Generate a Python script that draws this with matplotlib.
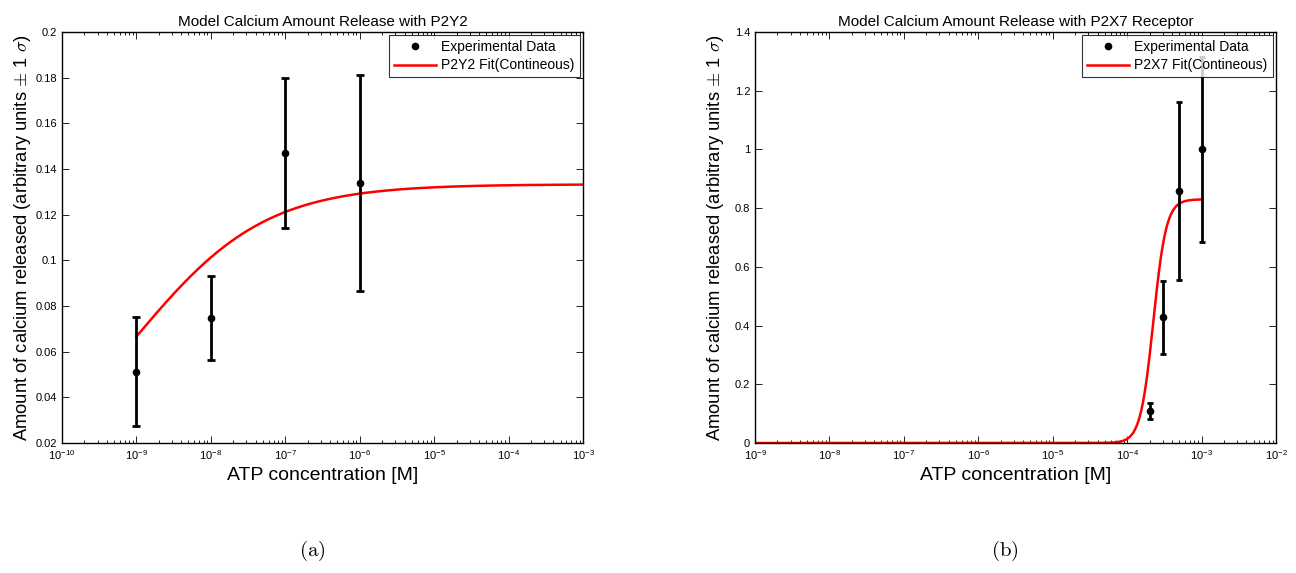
import numpy as np
import matplotlib
matplotlib.use("Agg")
import matplotlib.pyplot as plt
from matplotlib.ticker import LogLocator, NullFormatter, FixedLocator

plt.rcParams['font.family'] = ['Liberation Sans', 'DejaVu Sans']
plt.rcParams['mathtext.fontset'] = 'cm'

# ---- P2Y2 panel data ----
p2y2_atp = [1e-9, 1e-8, 1e-7, 1e-6]
p2y2_ca = [0.0513, 0.0746, 0.1470, 0.1338]
p2y2_err = [0.0240, 0.0184, 0.0327, 0.0472]
# Hill fit parameters (Ymax, K, n)
p2y2_fit_max = 0.1333
p2y2_fit_k = 1e-9
p2y2_fit_n = 0.5
p2y2_fit_range = (1e-9, 1e-3)

# ---- P2X7 panel data ----
p2x7_atp = [2e-4, 3e-4, 5e-4, 1e-3]
p2x7_ca = [0.109, 0.428, 0.858, 1.000]
p2x7_err = [0.028, 0.125, 0.304, 0.316]
p2x7_fit_max = 0.830
p2x7_fit_k = 2.25e-4
p2x7_fit_n = 5.0
p2x7_fit_range = (1e-9, 1e-3)

y_label = 'Amount of calcium released (arbitrary units $\\pm$ 1 $\\sigma$)'
x_label = 'ATP concentration [M]'


def hill(x, ymax, k, n):
    return ymax * x ** n / (k ** n + x ** n)


def style_axes(ax):
    ax.tick_params(which='both', direction='in', top=True, right=True,
                   labelsize=8, width=0.6)
    ax.tick_params(which='major', length=5)
    ax.tick_params(which='minor', length=2.5)
    for s in ax.spines.values():
        s.set_linewidth(1.0)
    ax.xaxis.set_minor_locator(LogLocator(base=10, subs=np.arange(2, 10), numticks=30))
    ax.xaxis.set_minor_formatter(NullFormatter())


def draw_panel(ax, atp, ca, err, fmax, fk, fn, frange, fit_label, title,
               xlim, ylim, yticks, ytick_labels, capsize):
    ax.set_xscale('log')
    ax.errorbar(atp, ca, yerr=err, fmt='none', ecolor='black',
                elinewidth=2.0, capsize=capsize, capthick=2.0, zorder=3)
    ax.plot(atp, ca, 'o', color='black', markersize=4.5, zorder=4,
            label='Experimental Data')
    xs = np.logspace(np.log10(frange[0]), np.log10(frange[1]), 600)
    ax.plot(xs, hill(xs, fmax, fk, fn), color='red', lw=1.8, zorder=2,
            label=fit_label)
    ax.set_xlim(*xlim)
    ax.set_ylim(*ylim)
    ax.yaxis.set_major_locator(FixedLocator(yticks))
    ax.set_yticklabels(ytick_labels)
    ax.xaxis.set_major_locator(LogLocator(base=10, numticks=20))
    style_axes(ax)
    ax.set_title(title, fontsize=11, pad=4)
    ax.set_xlabel(x_label, fontsize=14, labelpad=4)
    ax.set_ylabel(y_label, fontsize=13.2)
    ax.yaxis.set_label_coords(-0.056, 0.5)
    leg = ax.legend(loc='upper right', fontsize=10, frameon=True,
                    fancybox=False, edgecolor='black', handlelength=3.0,
                    handletextpad=0.4, borderpad=0.35, labelspacing=0.3,
                    borderaxespad=0.25, numpoints=1)
    leg.get_frame().set_linewidth(0.8)


fig = plt.figure(figsize=(12.96, 5.73), dpi=100)
ax1 = fig.add_axes([62 / 1296, 1 - 443 / 573, 521 / 1296, 411 / 573])
ax2 = fig.add_axes([755 / 1296, 1 - 443 / 573, 521 / 1296, 411 / 573])

draw_panel(ax1, p2y2_atp, p2y2_ca, p2y2_err, p2y2_fit_max, p2y2_fit_k,
           p2y2_fit_n, p2y2_fit_range, 'P2Y2 Fit(Contineous)',
           'Model Calcium Amount Release with P2Y2',
           (1e-10, 1e-3), (0.02, 0.2),
           [0.02, 0.04, 0.06, 0.08, 0.1, 0.12, 0.14, 0.16, 0.18, 0.2],
           ['0.02', '0.04', '0.06', '0.08', '0.1', '0.12', '0.14', '0.16', '0.18', '0.2'],
           capsize=3)

draw_panel(ax2, p2x7_atp, p2x7_ca, p2x7_err, p2x7_fit_max, p2x7_fit_k,
           p2x7_fit_n, p2x7_fit_range, 'P2X7 Fit(Contineous)',
           'Model Calcium Amount Release with P2X7 Receptor',
           (1e-9, 1e-2), (0, 1.4),
           [0, 0.2, 0.4, 0.6, 0.8, 1.0, 1.2, 1.4],
           ['0', '0.2', '0.4', '0.6', '0.8', '1', '1.2', '1.4'],
           capsize=2)

fig.text(312 / 1296, 1 - 551 / 573, r'$\mathrm{(a)}$', fontsize=15,
         ha='center', va='center')
fig.text(1005 / 1296, 1 - 551 / 573, r'$\mathrm{(b)}$', fontsize=15,
         ha='center', va='center')

fig.savefig('out.png', dpi=100, facecolor='white')
